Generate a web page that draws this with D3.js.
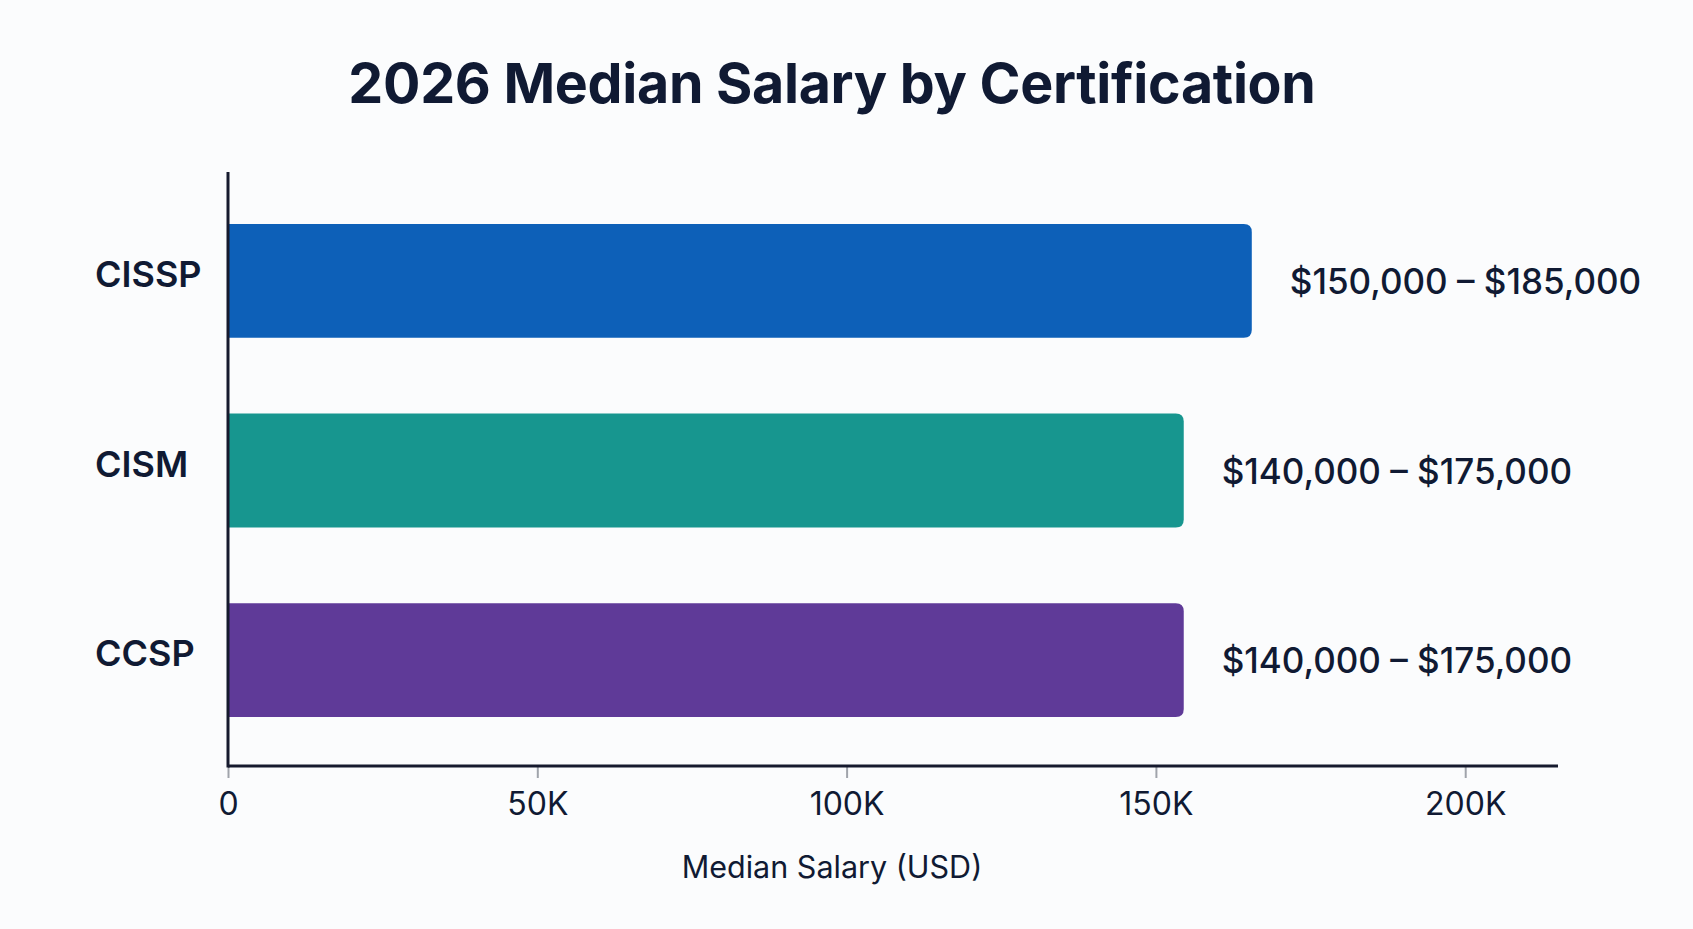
<html>
<head>
    <title>2026 Median Salary by Certification</title>
    <script src="https://d3js.org/d3.v7.min.js"></script>
    <style>
        body { margin: 0; background: #fbfcfd; }
        text { font-family: Inter, "Noto Sans", sans-serif; fill: #101a33; }
    </style>
</head>
<body>
    <svg id="barchart" width="1693" height="929"></svg>

    <script>
        // chart values
        const certs = ["CISSP", "CISM", "CCSP"];
        const medians = [165500, 154500, 154500];
        const ranges = ["$150,000 – $185,000", "$140,000 – $175,000", "$140,000 – $175,000"];
        const barColors = ["#0d60b8", "#17968f", "#5f3a98"];
        const tickValues = [0, 50000, 100000, 150000, 200000];
        const tickLabels = ["0", "50K", "100K", "150K", "200K"];

        const svg = d3.select('svg#barchart');
        svg.append('rect').attr('width', 1693).attr('height', 929).attr('fill', '#fbfcfd');

        const plotLeft = 228, plotRight = 1558, plotTop = 172, plotBottom = 766;

        const xScale = d3.scaleLinear()
                         .domain([0, 215000])
                         .range([plotLeft, plotRight]);

        const yScale = d3.scaleBand()
                         .domain(certs)
                         .range([plotTop, 769])
                         .paddingInner(0.4)
                         .paddingOuter(0.274);

        // title
        svg.append('text')
           .attr('x', 832)
           .attr('y', 103)
           .attr('text-anchor', 'middle')
           .attr('font-size', '55.5px')
           .attr('font-weight', 700)
           .style('letter-spacing', '-0.3px')
           .text('2026 Median Salary by Certification');

        // bars, square on the left, rounded on the right
        const r = 8;
        function barPath(x0, x1, y0, h) {
            return `M${x0},${y0} H${x1 - r} Q${x1},${y0} ${x1},${y0 + r} V${y0 + h - r} Q${x1},${y0 + h} ${x1 - r},${y0 + h} H${x0} Z`;
        }

        svg.append('g')
           .selectAll('path')
           .data(certs)
           .enter()
           .append('path')
           .attr('d', (d, i) => barPath(xScale(0) + 1, xScale(medians[i]), yScale(d), yScale.bandwidth()))
           .attr('fill', (d, i) => barColors[i]);

        // range labels
        svg.append('g')
           .selectAll('text')
           .data(certs)
           .enter()
           .append('text')
           .attr('x', (d, i) => xScale(medians[i]) + 38)
           .attr('y', d => yScale(d) + yScale.bandwidth() / 2)
           .attr('dominant-baseline', 'central')
           .attr('font-size', '35px')
           .attr('font-weight', 500)
           .text((d, i) => ranges[i]);

        // category labels
        svg.append('g')
           .selectAll('text')
           .data(certs)
           .enter()
           .append('text')
           .attr('x', 95)
           .attr('y', d => yScale(d) + yScale.bandwidth() / 2 - 7)
           .attr('dominant-baseline', 'central')
           .attr('font-size', '36px')
           .attr('font-weight', 600)
           .text(d => d);

        // x axis
        const xAxis = svg.append('g')
                         .attr('transform', `translate(0, ${plotBottom})`)
                         .call(d3.axisBottom(xScale)
                                 .tickValues(tickValues)
                                 .tickFormat((d, i) => tickLabels[i])
                                 .tickSize(12)
                                 .tickPadding(14));
        xAxis.select('.domain').remove();
        xAxis.selectAll('line').attr('stroke', '#a0a4ab').attr('stroke-width', 2);
        xAxis.selectAll('text')
             .style('font-family', 'Inter, sans-serif')
             .style('font-size', '32px')
             .attr('fill', '#101a33');

        // axis lines
        svg.append('line')
           .attr('x1', plotLeft).attr('x2', plotRight)
           .attr('y1', plotBottom).attr('y2', plotBottom)
           .attr('stroke', '#161a2e').attr('stroke-width', 3);
        svg.append('line')
           .attr('x1', plotLeft).attr('x2', plotLeft)
           .attr('y1', plotTop).attr('y2', plotBottom + 1.5)
           .attr('stroke', '#161a2e').attr('stroke-width', 3);

        // x axis title
        svg.append('text')
           .attr('x', 832)
           .attr('y', 878)
           .attr('text-anchor', 'middle')
           .attr('font-size', '30.5px')
           .text('Median Salary (USD)');
    </script>
</body>
</html>
